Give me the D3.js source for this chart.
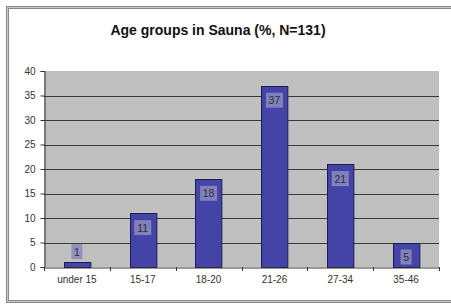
<!DOCTYPE html>
<html>
<head>
<meta charset="utf-8">
<script src="https://cdn.jsdelivr.net/npm/d3@7"></script>
<style>
  body { margin: 0; background: #fff; }
  text { font-family: "Liberation Sans", Arial, sans-serif; }
</style>
</head>
<body>
<svg id="chart" width="451" height="307"></svg>
<script>
'use strict';

const categories = ['under 15', '15-17', '18-20', '21-26', '27-34', '35-46'];
const values = [1, 11, 18, 37, 21, 5];
const yTicks = [0, 5, 10, 15, 20, 25, 30, 35, 40];
const title = 'Age groups in Sauna (%, N=131)';

const svg = d3.select('#chart');
const plot = { left: 44, right: 439, top: 71, bottom: 267 };

// outer chart frame
svg.append('rect')
    .attr('x', 7.5).attr('y', 7.5)
    .attr('width', 460).attr('height', 294)
    .attr('fill', '#fff')
    .attr('stroke', '#8a8a8a')
    .attr('stroke-width', 3);
svg.append('rect')
    .attr('x', 7.5).attr('y', 7.5)
    .attr('width', 460).attr('height', 294)
    .attr('fill', 'none')
    .attr('stroke', '#c8c8c8')
    .attr('stroke-width', 1);

svg.append('text')
    .attr('x', 218).attr('y', 35)
    .attr('text-anchor', 'middle')
    .attr('font-size', 14)
    .attr('font-weight', 'bold')
    .attr('fill', '#111')
    .text(title);

const x = d3.scaleBand()
    .domain(categories)
    .range([plot.left, plot.right])
    .paddingInner(0.6)
    .paddingOuter(0.3);

const y = d3.scaleLinear()
    .domain([0, 40])
    .range([plot.bottom, plot.top]);

// plot area
svg.append('rect')
    .attr('x', plot.left).attr('y', plot.top)
    .attr('width', plot.right - plot.left)
    .attr('height', plot.bottom - plot.top)
    .attr('fill', '#c0c0c0');

// gridlines
svg.append('g').selectAll('line')
    .data(yTicks.filter((d) => d > 0 && d < 40))
    .enter().append('line')
    .attr('x1', plot.left).attr('x2', plot.right)
    .attr('y1', (d) => Math.round(y(d)) + 0.5)
    .attr('y2', (d) => Math.round(y(d)) + 0.5)
    .attr('stroke', '#3a3a3a')
    .attr('stroke-width', 1);

// y axis
const yAxis = svg.append('g')
    .attr('transform', `translate(${plot.left + 0.5},0)`)
    .call(d3.axisLeft(y).tickValues(yTicks).tickSize(4).tickPadding(5));
yAxis.select('.domain').attr('stroke', '#333');
yAxis.selectAll('.tick line').attr('stroke', '#333');
yAxis.selectAll('.tick text')
    .attr('font-size', 10)
    .attr('fill', '#333')
    .attr('font-family', '"Liberation Sans", Arial, sans-serif');

// bars
svg.append('g').selectAll('rect')
    .data(values)
    .enter().append('rect')
    .attr('x', (d, i) => Math.round(x(categories[i])) + 0.5)
    .attr('y', (d) => Math.round(y(d)) + 0.5)
    .attr('width', x.bandwidth())
    .attr('height', (d) => Math.round(y(0)) - Math.round(y(d)))
    .attr('fill', '#4444a8')
    .attr('stroke', '#1c1c50')
    .attr('stroke-width', 1);

// x axis
const xAxis = svg.append('g')
    .attr('transform', `translate(0,${plot.bottom + 0.5})`)
    .call(d3.axisBottom(x).tickSize(0).tickPadding(8));
xAxis.select('.domain').attr('stroke', '#333');
xAxis.selectAll('.tick text')
    .attr('font-size', 10)
    .attr('fill', '#333')
    .attr('font-family', '"Liberation Sans", Arial, sans-serif');

// category separators on the x axis
const bounds = d3.range(categories.length + 1).map((i) => plot.left + i * (plot.right - plot.left) / categories.length);
svg.append('g').selectAll('line')
    .data(bounds)
    .enter().append('line')
    .attr('x1', (d) => Math.round(d) + 0.5).attr('x2', (d) => Math.round(d) + 0.5)
    .attr('y1', plot.bottom).attr('y2', plot.bottom + 4)
    .attr('stroke', '#333');

// data labels
const labels = svg.append('g').selectAll('g')
    .data(values)
    .enter().append('g')
    .attr('transform', (d, i) => {
        const cx = x(categories[i]) + x.bandwidth() / 2;
        const barH = y(0) - y(d);
        // inside the bar top when it fits, above it otherwise
        const top = barH > 20 ? y(d) + 7 : y(d) - 18;
        return `translate(${cx},${top})`;
    });

labels.append('rect')
    .attr('x', (d) => -(String(d).length * 6 + 5) / 2)
    .attr('y', 0)
    .attr('width', (d) => String(d).length * 6 + 5)
    .attr('height', 15)
    .attr('fill', '#8a8abc')
    .attr('opacity', 0.88);

labels.append('text')
    .attr('x', 0).attr('y', 11.5)
    .attr('text-anchor', 'middle')
    .attr('font-size', 10.5)
    .attr('fill', '#2a2a44')
    .text((d) => d);
</script>
</body>
</html>
